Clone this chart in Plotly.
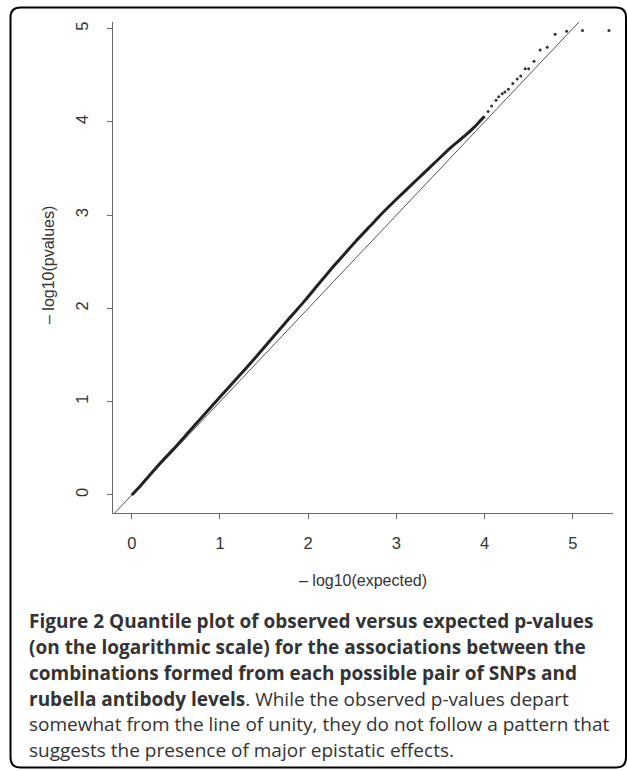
import plotly.graph_objects as go

# ---- data ----
curve_expected = [0.00, 0.10, 0.20, 0.35, 0.50, 0.65, 0.80, 1.00, 1.20, 1.40, 1.60, 1.80, 1.95,
                  2.10, 2.25, 2.40, 2.55, 2.70, 2.85, 3.00, 3.10, 3.20, 3.30, 3.40, 3.50, 3.60,
                  3.70, 3.80, 3.88, 3.95, 4.00]
curve_observed = [0.00, 0.10, 0.21, 0.37, 0.52, 0.68, 0.84, 1.05, 1.26, 1.47, 1.69, 1.91, 2.07,
                  2.24, 2.41, 2.57, 2.73, 2.88, 3.03, 3.17, 3.26, 3.35, 3.44, 3.53, 3.62, 3.71,
                  3.79, 3.87, 3.94, 4.01, 4.06]
tail_expected = [4.04, 4.08, 4.13, 4.16, 4.20, 4.23, 4.27, 4.32, 4.37, 4.41, 4.46, 4.50, 4.56,
                 4.63, 4.71, 4.80, 4.93, 5.11, 5.41]
tail_observed = [4.11, 4.17, 4.23, 4.27, 4.30, 4.32, 4.35, 4.41, 4.46, 4.49, 4.57, 4.57, 4.65,
                 4.77, 4.80, 4.94, 4.97, 4.98, 4.98]
unity = [-0.5, 6.0]
x_ticks = [0, 1, 2, 3, 4, 5]
y_ticks = [0, 1, 2, 3, 4, 5]
x_title = "\u2013 log10(expected)"
y_title = "\u2013 log10(pvalues)"
caption_lines = [
    "<b>Figure 2 Quantile plot of observed versus expected p-values</b>",
    "<b>(on the logarithmic scale) for the associations between the</b>",
    "<b>combinations formed from each possible pair of SNPs and</b>",
    "<b>rubella antibody levels</b>. While the observed p-values depart",
    "somewhat from the line of unity, they do not follow a pattern that",
    "suggests the presence of major epistatic effects.",
]

W, H = 627, 771
L, R, T, B = 113, 14, 22, 258
PW, PH = W - L - R, H - T - B


def px(x):
    return (x - L) / PW


def py(y):
    return (H - B - y) / PH


fig = go.Figure()
fig.add_trace(go.Scatter(x=unity, y=unity, mode="lines",
                         line=dict(color="#555555", width=1), hoverinfo="skip"))
fig.add_trace(go.Scatter(x=curve_expected, y=curve_observed, mode="lines",
                         line=dict(color="#222222", width=3, shape="spline", smoothing=0.6),
                         hoverinfo="skip"))
fig.add_trace(go.Scatter(x=tail_expected, y=tail_observed, mode="markers",
                         marker=dict(color="#333333", size=3), hoverinfo="skip"))

axis_font = dict(family="Liberation Sans, Arial, sans-serif", size=16, color="#333333")
tick_font = dict(family="Liberation Sans, Arial, sans-serif", size=16.5, color="#333333")
fig.update_xaxes(range=[-0.213, 5.456], tickvals=x_ticks, showline=True, linecolor="#666666",
                 linewidth=1, ticks="outside", ticklen=5, tickcolor="#666666",
                 showgrid=False, zeroline=False, tickfont=tick_font, ticklabelstandoff=10)
fig.update_yaxes(range=[-0.193, 5.07], tickvals=y_ticks, showline=True, linecolor="#666666",
                 linewidth=1, ticks="outside", ticklen=5, tickcolor="#666666",
                 showgrid=False, zeroline=False, tickfont=tick_font, tickangle=-90,
                 ticklabelstandoff=12)

annotations = [
    dict(text=x_title, x=px(363), y=py(580), xref="paper", yref="paper", showarrow=False,
         font=axis_font, xanchor="center", yanchor="middle"),
    dict(text=y_title, x=px(48), y=py(265), xref="paper", yref="paper", showarrow=False,
         font=axis_font, textangle=-90, xanchor="center", yanchor="middle"),
]
cap_y = [621, 647, 673, 699, 724, 750]
for line, yy in zip(caption_lines, cap_y):
    annotations.append(dict(text=line, x=px(27), y=py(yy), xref="paper", yref="paper",
                            showarrow=False, xanchor="left", yanchor="middle",
                            font=dict(family="Open Sans, Noto Sans, sans-serif", size=19,
                                      color="#333333")))

# rounded frame
x0, x1, y0, y1, r = 10.5, 626, 7.5, 767.5, 10
path = (f"M {px(x0 + r)},{py(y0)} L {px(x1 - r)},{py(y0)} "
        f"Q {px(x1)},{py(y0)} {px(x1)},{py(y0 + r)} L {px(x1)},{py(y1 - r)} "
        f"Q {px(x1)},{py(y1)} {px(x1 - r)},{py(y1)} L {px(x0 + r)},{py(y1)} "
        f"Q {px(x0)},{py(y1)} {px(x0)},{py(y1 - r)} L {px(x0)},{py(y0 + r)} "
        f"Q {px(x0)},{py(y0)} {px(x0 + r)},{py(y0)} Z")

fig.update_layout(
    width=W, height=H, autosize=False,
    margin=dict(l=L, r=R, t=T, b=B),
    paper_bgcolor="white", plot_bgcolor="white",
    showlegend=False,
    annotations=annotations,
    shapes=[dict(type="path", path=path, xref="paper", yref="paper",
                 line=dict(color="black", width=2), layer="above")],
)

fig.write_html("out.html", config={"displayModeBar": False},
               post_script="document.body.style.margin='0';document.body.style.overflow='hidden';")
